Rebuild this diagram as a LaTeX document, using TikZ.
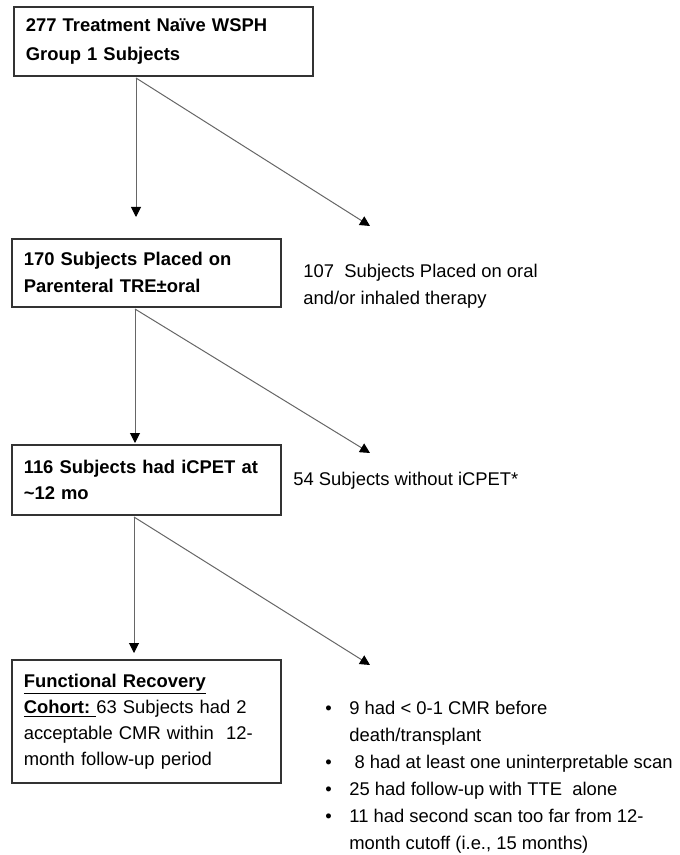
\documentclass[tikz,border=0pt]{standalone}
\usepackage{fontspec}
\setmainfont{Liberation Sans}
\usetikzlibrary{arrows.meta}

\tikzset{
  box/.style={draw=black!80, line width=0.8pt, inner xsep=6pt, inner ysep=0pt,
    align=left, anchor=north west, font=\fontsize{9.2pt}{13.5pt}\selectfont},
  note/.style={inner sep=0pt, align=left, anchor=north west,
    font=\fontsize{9.2pt}{13.5pt}\selectfont},
  arr/.style={draw=black!60, line width=0.5pt,
    -{Triangle[width=5pt,length=5pt,color=black]}}
}
\newcommand{\bul}{\makebox[12pt][l]{•}}
\newcommand{\hng}{\hspace*{12pt}}

\begin{document}
\begin{tikzpicture}[x=0.5pt, y=-0.5pt]
\useasboundingbox (0,0) rectangle (679,855);

% boxes on the left
\node[box, text width=137.5pt, minimum height=34.5pt,
      font=\fontsize{9.2pt}{14.5pt}\selectfont\bfseries] (b1) at (13,6)
  {277 Treatment Naïve WSPH\\Group 1 Subjects};
\node[box, text width=122.5pt, minimum height=34pt, font=\fontsize{9.2pt}{13.5pt}\selectfont\bfseries] (b2) at (11,238)
  {170 Subjects Placed on\\Parenteral TRE±oral};
\node[box, text width=122.5pt, minimum height=35pt, font=\fontsize{9.2pt}{13pt}\selectfont\bfseries] (b3) at (11,444)
  {116 Subjects had iCPET at\\\textasciitilde12 mo};
\node[box, text width=122.5pt, minimum height=61.5pt, font=\fontsize{9.2pt}{13pt}\selectfont] (b4) at (11,659)
  {\underline{\textbf{Functional Recovery}}\\
   \underline{\textbf{Cohort:}\ }63 Subjects had 2\\
   acceptable CMR within \ 12-\\
   month follow-up period};

% texts on the right
\node[note] (n107) at (303,263.5)
  {107 \ Subjects Placed on oral\\and/or inhaled therapy};
\node[note] (n54) at (293,471.5) {54 Subjects without iCPET*};
\node[note] (excl) at (325,700.5)
  {\bul 9 had < 0-1 CMR before\\
   \hng death/transplant\\
   \bul \ 8 had at least one uninterpretable scan\\
   \bul 25 had follow-up with TTE \ alone\\
   \bul 11 had second scan too far from 12-\\
   \hng month cutoff (i.e., 15 months)};

% split points and arrow tips
\coordinate (s1) at (136,78);
\coordinate (v1) at (136,217);
\coordinate (d1) at (370,226);
\coordinate (s2) at (135,309);
\coordinate (v2) at (135,443);
\coordinate (d2) at (370,453);
\coordinate (s3) at (134,517);
\coordinate (v3) at (134,653);
\coordinate (d3) at (370,665);

\draw[arr] (s1) -- (v1);
\draw[arr] (s1) -- (d1);
\draw[arr] (s2) -- (v2);
\draw[arr] (s2) -- (d2);
\draw[arr] (s3) -- (v3);
\draw[arr] (s3) -- (d3);
\end{tikzpicture}
\end{document}
